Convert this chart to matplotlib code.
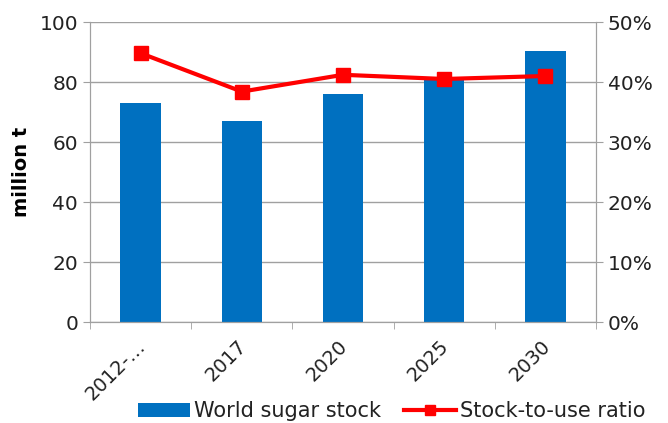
import matplotlib.pyplot as plt
import matplotlib.transforms as mtransforms
import numpy as np
from matplotlib.ticker import FuncFormatter

# data
years = ["2012-…", "2017", "2020", "2025", "2030"]
stock = [73.0, 67.0, 76.0, 80.5, 90.4]        # million t
ratio = [44.8, 38.4, 41.2, 40.5, 41.0]        # percent

blue = "#0070C0"
grey = "#A0A0A0"
txt = "#222222"

plt.rcParams["font.family"] = ["DejaVu Sans"]

fig = plt.figure(figsize=(6.68, 4.23), dpi=100)
ax = fig.add_axes([90 / 668, 1 - 322 / 423, 506 / 668, 300 / 423])

x = np.arange(len(years))
ax.bar(x, stock, width=0.4, color=blue, zorder=2, label="World sugar stock")
ax.set_xlim(-0.5, len(years) - 0.5)
ax.set_ylim(0, 100)
ax.set_yticks(range(0, 101, 20))
ax.yaxis.grid(True, color=grey, linewidth=1, zorder=0)
ax.set_axisbelow(True)
ax.set_ylabel("million t", fontsize=14, fontweight="bold", labelpad=6)

ax.set_xticks(x)
ax.set_xticklabels(years, rotation=45, ha="right", rotation_mode="anchor", fontsize=14)
ax.set_xticks(np.arange(-0.5, len(years)), minor=True)
ax.tick_params(axis="x", which="major", length=0, pad=9)
ax.tick_params(axis="x", which="minor", length=5, color=grey)
ax.tick_params(axis="y", length=5, color=grey, labelsize=14.5, colors=txt)
ax.tick_params(axis="x", labelcolor=txt)

# nudge rotated labels so their end sits under the category centre
shift = mtransforms.ScaledTranslation(-5 / 100, -2 / 100, fig.dpi_scale_trans)
for lab in ax.get_xticklabels():
    lab.set_transform(lab.get_transform() + shift)

ax2 = ax.twinx()
ax2.plot(x, ratio, color="#FF0000", linewidth=3, marker="s", markersize=10,
         zorder=3, label="Stock-to-use ratio")
ax2.set_ylim(0, 50)
ax2.set_yticks(range(0, 51, 10))
ax2.yaxis.set_major_formatter(FuncFormatter(lambda v, p: f"{int(v)}%"))
ax2.tick_params(axis="y", length=5, color=grey, labelsize=14.5, labelcolor=txt)

for a in (ax, ax2):
    for s in a.spines.values():
        s.set_color(grey)
    a.spines["top"].set_visible(False)

h1, l1 = ax.get_legend_handles_labels()
h2, l2 = ax2.get_legend_handles_labels()
leg = fig.legend(h1 + h2, l1 + l2, loc="center left", bbox_to_anchor=(0.178, 0.028),
                 ncol=2, frameon=False, fontsize=15, handlelength=2.5,
                 columnspacing=1.1, handletextpad=0.2, markerscale=0.7)
for t in leg.get_texts():
    t.set_color(txt)

fig.savefig("out.png", dpi=100)
